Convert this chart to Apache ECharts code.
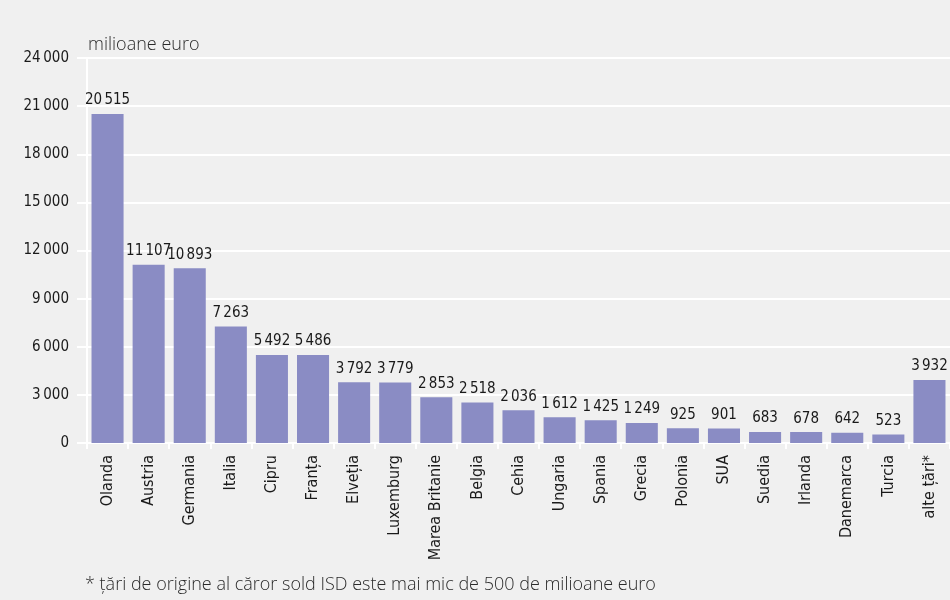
<!DOCTYPE html>
<html>
<head>
<meta charset="utf-8">
<script src="https://cdn.jsdelivr.net/npm/echarts@6/dist/echarts.min.js"></script>
<style>
  html, body { margin: 0; padding: 0; background: #f0f0f0; }
  #chart { width: 950px; height: 600px; }
</style>
</head>
<body>
<div id="chart"></div>
<script>
// tari de origine si sold ISD (milioane euro)
var tari = ['Olanda', 'Austria', 'Germania', 'Italia', 'Cipru', 'Franța', 'Elveția', 'Luxemburg',
    'Marea Britanie', 'Belgia', 'Cehia', 'Ungaria', 'Spania', 'Grecia', 'Polonia', 'SUA',
    'Suedia', 'Irlanda', 'Danemarca', 'Turcia', 'alte țări*'];
var sold = [20515, 11107, 10893, 7263, 5492, 5486, 3792, 3779, 2853, 2518, 2036, 1612, 1425,
    1249, 925, 901, 683, 678, 642, 523, 3932];
var yTicks = [0, 3000, 6000, 9000, 12000, 15000, 18000, 21000, 24000];

var condensed = '"Liberation Sans Narrow", "DejaVu Sans Condensed", "Open Sans", sans-serif';

function fmt(v, sep) {
    // separator de mii cu spatiu
    return String(v).replace(/\B(?=(\d{3})+(?!\d))/g, sep || '\u2009');
}

var option = {
    backgroundColor: '#f0f0f0',
    animation: false,
    grid: {
        left: 87,
        top: 58,
        width: 866,
        height: 385
    },
    title: [{
        text: 'milioane euro',
        left: 83,
        top: 31,
        textStyle: { fontFamily: '"Open Sans", sans-serif', fontWeight: 300, fontSize: 18, color: '#2a2a2a' }
    }, {
        text: '* țări de origine al căror sold ISD este mai mic de 500 de milioane euro',
        left: 80,
        top: 571,
        textStyle: { fontFamily: '"Open Sans", sans-serif', fontWeight: 300, fontSize: 18, color: '#2a2a2a' }
    }],
    xAxis: {
        type: 'category',
        data: tari,
        axisLine: { lineStyle: { color: '#ffffff', width: 2 } },
        axisTick: { show: true, length: 6, lineStyle: { color: '#ffffff', width: 2 } },
        axisLabel: {
            rotate: 90,
            interval: 0,
            margin: 12,
            fontFamily: condensed,
            fontSize: 16,
            color: '#1a1a1a'
        }
    },
    yAxis: {
        type: 'value',
        min: yTicks[0],
        max: yTicks[yTicks.length - 1],
        interval: 3000,
        axisLine: { show: true, lineStyle: { color: '#ffffff', width: 2 } },
        axisTick: { show: true, length: 10, lineStyle: { color: '#ffffff', width: 2 } },
        splitLine: { lineStyle: { color: '#ffffff', width: 2 } },
        axisLabel: {
            margin: 18,
            fontFamily: condensed,
            fontSize: 15,
            color: '#1a1a1a',
            formatter: function (v) { return fmt(v); }
        }
    },
    series: [{
        type: 'bar',
        data: sold,
        barCategoryGap: '22%',
        itemStyle: { color: '#8a8cc4' },
        label: {
            show: true,
            position: 'top',
            distance: 6,
            fontFamily: condensed,
            fontSize: 15,
            color: '#1a1a1a',
            formatter: function (p) { return fmt(p.value, '\u2006'); }
        }
    }]
};

var myChart = echarts.init(document.getElementById('chart'));
myChart.setOption(option);
</script>
</body>
</html>
